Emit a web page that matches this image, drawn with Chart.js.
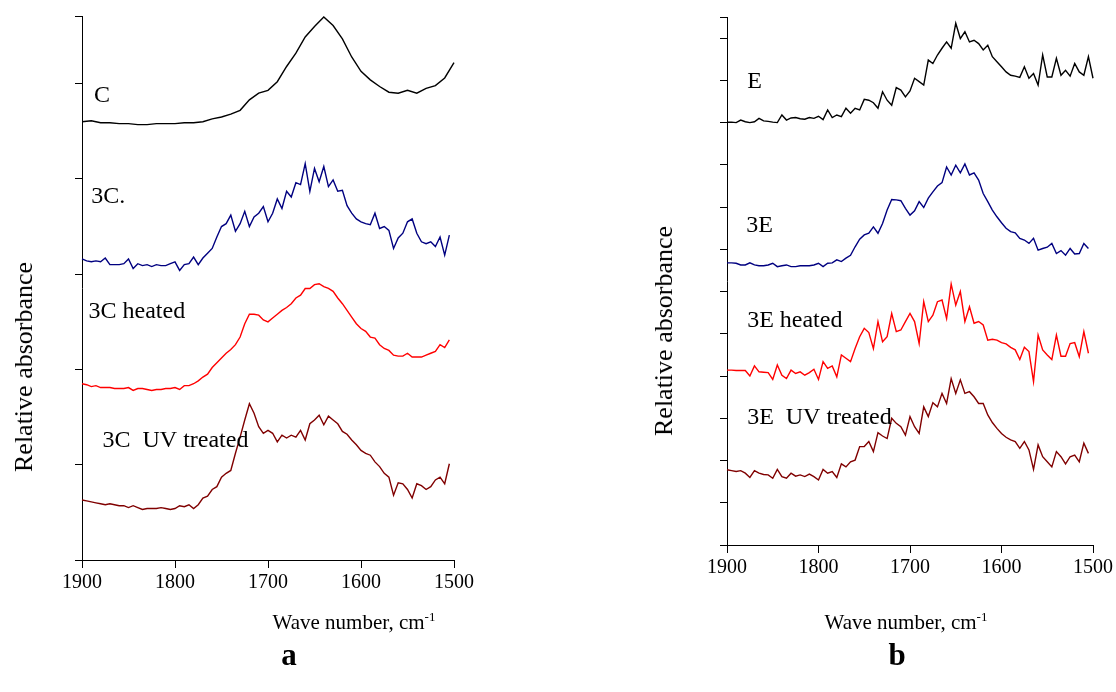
<!DOCTYPE html>
<html>
<head>
<meta charset="utf-8">
<script src="https://cdn.jsdelivr.net/npm/chart.js@4.4.0/dist/chart.umd.min.js"></script>
<style>
  body { margin: 0; background: #fff; }
  #wrap { position: relative; width: 1116px; height: 692px; font-family: 'Liberation Serif', 'Times New Roman', serif; color: #000; }
  canvas { position: absolute; left: 0; top: 0; }
  .ytitle { position: absolute; font-size: 26px; white-space: nowrap; transform: translate(-50%, -50%) rotate(-90deg); }
  .xtitle { position: absolute; font-size: 21px; white-space: nowrap; transform: translate(-50%, -50%); }
  .xtitle sup { font-size: 13px; }
  .panel { position: absolute; font-size: 31px; font-weight: bold; transform: translate(-50%, -50%); }
</style>
</head>
<body>
<div id="wrap">
  <canvas id="chart-a" width="1116" height="692"></canvas>
  <canvas id="chart-b" width="1116" height="692"></canvas>
  <div class="ytitle" style="left:24px; top:367px;">Relative absorbance</div>
  <div class="ytitle" style="left:664px; top:331px;">Relative absorbance</div>
  <div class="xtitle" style="left:354px; top:622px;">Wave number, cm<sup>-1</sup></div>
  <div class="xtitle" style="left:906px; top:622px;">Wave number, cm<sup>-1</sup></div>
  <div class="panel" style="left:289px; top:655px;">a</div>
  <div class="panel" style="left:897px; top:655px;">b</div>
</div>
<script>
const FONT = "'Liberation Serif', 'Times New Roman', serif";

// wavenumber grids, cm-1 (high to low)
function grid(from, to, step) {
    const out = [];
    for (let w = from; w >= to; w -= step) out.push(w);
    return out;
}
const wnStep10 = grid(1900, 1500, 10);
const wnStep5 = grid(1900, 1500, 5);
const wnStep5Short = grid(1900, 1505, 5);

// panel a
const absC = [4.60, 4.61, 4.59, 4.59, 4.58, 4.58, 4.57, 4.57, 4.58, 4.58,
    4.58, 4.59, 4.59, 4.60, 4.63, 4.65, 4.68, 4.72, 4.83, 4.90,
    4.93, 5.02, 5.18, 5.32, 5.49, 5.60, 5.70, 5.61, 5.47, 5.28,
    5.13, 5.04, 4.97, 4.91, 4.90, 4.93, 4.90, 4.95, 4.98, 5.06, 5.22];
const abs3C = [3.16, 3.14, 3.13, 3.14, 3.13, 3.17, 3.10, 3.10, 3.10, 3.11,
    3.16, 3.06, 3.11, 3.09, 3.10, 3.08, 3.10, 3.09, 3.09, 3.11,
    3.13, 3.04, 3.10, 3.11, 3.18, 3.10, 3.17, 3.22, 3.27, 3.39,
    3.50, 3.53, 3.62, 3.45, 3.53, 3.66, 3.50, 3.60, 3.64, 3.71,
    3.55, 3.64, 3.79, 3.69, 3.87, 3.81, 3.96, 3.94, 4.16, 3.87,
    4.11, 3.97, 4.13, 3.92, 3.99, 3.87, 3.88, 3.72, 3.64, 3.58,
    3.55, 3.53, 3.52, 3.64, 3.48, 3.50, 3.46, 3.27, 3.38, 3.43,
    3.55, 3.58, 3.43, 3.34, 3.32, 3.34, 3.29, 3.39, 3.20, 3.41];
const abs3CHeated = [1.85, 1.84, 1.82, 1.83, 1.81, 1.81, 1.81, 1.80, 1.80, 1.80,
    1.81, 1.78, 1.80, 1.80, 1.79, 1.78, 1.79, 1.79, 1.80, 1.80,
    1.81, 1.79, 1.83, 1.83, 1.85, 1.88, 1.92, 1.95, 2.02, 2.07,
    2.12, 2.17, 2.21, 2.26, 2.34, 2.48, 2.58, 2.58, 2.57, 2.52,
    2.50, 2.54, 2.58, 2.62, 2.65, 2.69, 2.75, 2.78, 2.85, 2.85,
    2.89, 2.90, 2.87, 2.85, 2.82, 2.75, 2.69, 2.62, 2.55, 2.48,
    2.43, 2.40, 2.34, 2.33, 2.26, 2.22, 2.20, 2.15, 2.14, 2.14,
    2.17, 2.13, 2.13, 2.13, 2.15, 2.17, 2.19, 2.26, 2.23, 2.31];
const abs3CUV = [0.63, 0.62, 0.61, 0.60, 0.59, 0.58, 0.59, 0.58, 0.57, 0.57,
    0.55, 0.57, 0.55, 0.53, 0.54, 0.54, 0.54, 0.55, 0.54, 0.53,
    0.54, 0.57, 0.56, 0.58, 0.54, 0.58, 0.65, 0.67, 0.74, 0.77,
    0.87, 0.91, 0.94, 1.12, 1.29, 1.47, 1.64, 1.54, 1.40, 1.33,
    1.36, 1.33, 1.24, 1.31, 1.28, 1.31, 1.29, 1.36, 1.26, 1.43,
    1.47, 1.52, 1.42, 1.51, 1.47, 1.43, 1.35, 1.32, 1.26, 1.21,
    1.15, 1.12, 1.10, 1.03, 0.98, 0.91, 0.87, 0.68, 0.81, 0.80,
    0.74, 0.65, 0.80, 0.78, 0.74, 0.77, 0.84, 0.87, 0.80, 1.01];

// panel b
const absE = [10.01, 10.01, 10.00, 10.06, 10.02, 10.00, 10.02, 10.10, 10.04, 10.03,
    10.01, 10.00, 10.18, 10.06, 10.11, 10.12, 10.09, 10.08, 10.12, 10.10,
    10.15, 10.07, 10.30, 10.12, 10.18, 10.14, 10.34, 10.22, 10.34, 10.30,
    10.55, 10.53, 10.47, 10.34, 10.73, 10.53, 10.41, 10.83, 10.77, 10.61,
    10.75, 11.05, 10.97, 10.89, 11.48, 11.40, 11.60, 11.76, 11.91, 11.76,
    12.35, 11.99, 12.15, 11.91, 11.95, 11.87, 11.72, 11.83, 11.56, 11.44,
    11.32, 11.20, 11.12, 11.10, 11.07, 11.32, 11.05, 11.16, 10.89, 11.60,
    11.08, 11.08, 11.52, 11.12, 11.24, 11.10, 11.40, 11.20, 11.12, 11.56, 11.05];
const abs3E = [6.68, 6.68, 6.67, 6.63, 6.63, 6.68, 6.63, 6.61, 6.61, 6.63,
    6.67, 6.59, 6.61, 6.63, 6.59, 6.59, 6.61, 6.61, 6.61, 6.63,
    6.67, 6.59, 6.67, 6.68, 6.75, 6.71, 6.79, 6.86, 7.06, 7.24,
    7.34, 7.38, 7.53, 7.38, 7.61, 7.93, 8.18, 8.17, 8.15, 7.97,
    7.81, 7.91, 8.13, 7.99, 8.21, 8.36, 8.50, 8.58, 8.95, 8.76,
    8.99, 8.81, 9.02, 8.76, 8.81, 8.64, 8.32, 8.13, 7.93, 7.77,
    7.63, 7.50, 7.42, 7.39, 7.26, 7.22, 7.14, 7.26, 6.98, 7.02,
    7.05, 7.14, 6.90, 6.97, 6.86, 7.02, 6.89, 6.90, 7.14, 7.02];
const abs3EHeated = [4.14, 4.14, 4.13, 4.13, 4.13, 4.00, 4.24, 4.10, 4.09, 4.08,
    3.92, 4.26, 4.02, 3.94, 4.14, 4.06, 4.10, 4.02, 4.08, 4.16,
    3.92, 4.34, 4.18, 4.24, 3.98, 4.50, 4.42, 4.34, 4.65, 4.93,
    5.13, 5.03, 4.65, 5.29, 4.81, 4.93, 5.48, 5.05, 5.09, 5.29,
    5.48, 5.29, 4.77, 5.76, 5.29, 5.44, 5.76, 5.80, 5.36, 6.18,
    5.68, 6.00, 5.29, 5.64, 5.25, 5.29, 5.21, 4.85, 4.87, 4.85,
    4.79, 4.76, 4.68, 4.62, 4.39, 4.68, 4.58, 3.87, 4.97, 4.62,
    4.50, 4.39, 4.97, 4.47, 4.47, 4.77, 4.79, 4.46, 5.05, 4.54];
const abs3EUV = [1.78, 1.76, 1.74, 1.76, 1.70, 1.60, 1.76, 1.70, 1.67, 1.66,
    1.58, 1.79, 1.62, 1.58, 1.70, 1.63, 1.66, 1.62, 1.68, 1.62,
    1.54, 1.79, 1.70, 1.74, 1.60, 1.92, 1.85, 1.97, 2.01, 2.33,
    2.33, 2.45, 2.21, 2.66, 2.58, 2.52, 3.00, 2.88, 2.80, 2.60,
    3.04, 2.80, 2.64, 3.27, 3.04, 3.37, 3.27, 3.59, 3.35, 3.94,
    3.59, 3.91, 3.59, 3.63, 3.51, 3.35, 3.35, 3.08, 2.90, 2.76,
    2.64, 2.55, 2.49, 2.45, 2.29, 2.45, 2.25, 1.79, 2.37, 2.09,
    1.97, 1.85, 2.21, 2.09, 1.92, 2.09, 2.13, 1.97, 2.41, 2.17];

// y-axis tick values (relative units)
const yTicksA = [0, 1, 2, 3, 4, 5, 5.71];
const yTicksB = [0, 1, 2, 3, 4, 5, 6, 7, 8, 9, 10, 11, 12, 12.5];

// series names and where they are written (wavenumber, absorbance)
const labelsA = [
    { text: 'C', at: [1887, 4.87] },
    { text: '3C.', at: [1890, 3.81] },
    { text: '3C heated', at: [1893, 2.61] },
    { text: '3C  UV treated', at: [1878, 1.25] }
];
const labelsB = [
    { text: 'E', at: [1878, 10.96] },
    { text: '3E', at: [1879, 7.55] },
    { text: '3E heated', at: [1878, 5.30] },
    { text: '3E  UV treated', at: [1878, 3.01] }
];

const seriesLabels = {
    id: 'seriesLabels',
    afterDatasetsDraw(chart, args, opts) {
        const { ctx, scales: { x, y } } = chart;
        ctx.save();
        ctx.font = '24px ' + FONT;
        ctx.fillStyle = '#000';
        ctx.textBaseline = 'middle';
        ctx.textAlign = 'left';
        opts.items.forEach(item => {
            ctx.fillText(item.text, x.getPixelForValue(item.at[0]), y.getPixelForValue(item.at[1]));
        });
        ctx.restore();
    }
};

function line(wn, values, color) {
    return {
        data: wn.map((w, i) => ({ x: w, y: values[i] })),
        borderColor: color,
        borderWidth: 1.4,
        pointRadius: 0,
        tension: 0,
        fill: false,
        clip: false
    };
}

function makeChart(id, datasets, yMax, yTicks, padding, labels) {
    const ctx = document.getElementById(id).getContext('2d');
    return new Chart(ctx, {
        type: 'line',
        data: { datasets: datasets },
        options: {
            responsive: false,
            animation: false,
            layout: { padding: padding },
            plugins: {
                legend: { display: false },
                tooltip: { enabled: false },
                seriesLabels: { items: labels }
            },
            scales: {
                x: {
                    type: 'linear',
                    min: 1500,
                    max: 1900,
                    reverse: true,
                    ticks: {
                        stepSize: 100, color: '#000', padding: 3, maxRotation: 0,
                        font: { family: FONT, size: 20 },
                        callback: v => String(v)
                    },
                    grid: { drawOnChartArea: false, tickLength: 8, color: '#000' },
                    border: { color: '#000', width: 1 },
                    afterFit: s => { s.height = 40; }
                },
                y: {
                    type: 'linear',
                    min: 0,
                    max: yMax,
                    ticks: { display: false },
                    afterBuildTicks: s => { s.ticks = yTicks.map(v => ({ value: v })); },
                    grid: { drawOnChartArea: false, tickLength: 7, color: '#000' },
                    border: { color: '#000', width: 1 },
                    afterFit: s => { s.width = 8; }
                }
            }
        },
        plugins: [seriesLabels]
    });
}

makeChart('chart-a', [
    line(wnStep10, absC, '#000000'),
    line(wnStep5Short, abs3C, '#000080'),
    line(wnStep5Short, abs3CHeated, '#ff0000'),
    line(wnStep5Short, abs3CUV, '#800000')
], 5.71, yTicksA, { left: 74, right: 662, top: 16, bottom: 92 }, labelsA);

makeChart('chart-b', [
    line(wnStep5, absE, '#000000'),
    line(wnStep5Short, abs3E, '#000080'),
    line(wnStep5Short, abs3EHeated, '#ff0000'),
    line(wnStep5Short, abs3EUV, '#800000')
], 12.5, yTicksB, { left: 719, right: 19, top: 17, bottom: 107 }, labelsB);
</script>
</body>
</html>
